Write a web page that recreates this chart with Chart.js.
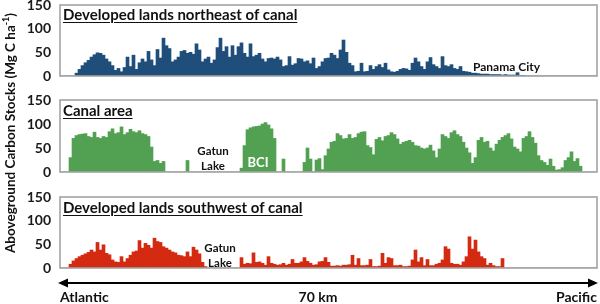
<!DOCTYPE html>
<html>
<head>
<meta charset="utf-8">
<script src="https://cdn.jsdelivr.net/npm/chart.js@4.4.1/dist/chart.umd.min.js"></script>
<style>
  body{margin:0;background:#fff;width:600px;height:304px;position:relative;overflow:hidden;font-family:Lato,"Open Sans",sans-serif;font-weight:bold;color:#111}
  .box{position:absolute;left:0;width:600px}
  .t{position:absolute;white-space:nowrap;line-height:1}
  .u{text-decoration:underline;text-underline-offset:2px}
</style>
</head>
<body>
<div class="box" style="top:-3px;height:87px"><canvas id="ne"></canvas></div>
<div class="box" style="top:92px;height:88px"><canvas id="canal"></canvas></div>
<div class="box" style="top:189px;height:87px"><canvas id="sw"></canvas></div>

<div class="t u" style="left:63px;top:7px;font-size:15px">Developed lands northeast of canal</div>
<div class="t u" style="left:63px;top:103px;font-size:15px">Canal area</div>
<div class="t u" style="left:63px;top:200px;font-size:15px">Developed lands southwest of canal</div>

<div class="t" style="left:473px;top:61px;font-size:12px">Panama City</div>
<div class="t" style="left:213px;top:143px;font-size:11.5px;transform:translateX(-50%);text-align:center;line-height:15px">Gatun<br>Lake</div>
<div class="t" style="left:258px;top:156px;font-size:13px;color:#fff;transform:translateX(-50%)">BCI</div>
<div class="t" style="left:220px;top:240px;font-size:11.5px;transform:translateX(-50%);text-align:center;line-height:15px">Gatun<br>Lake</div>

<div class="t" style="left:9px;top:133px;font-size:13.5px;transform:translate(-50%,-50%) rotate(-90deg)">Aboveground Carbon Stocks (Mg C ha<sup style="font-size:9px">-1</sup>)</div>

<svg style="position:absolute;left:0;top:0" width="600" height="304">
  <line x1="66" y1="283" x2="591" y2="283" stroke="#000" stroke-width="2"/>
  <polygon points="58,283 68,278.5 68,287.5" fill="#000"/>
  <polygon points="598,283 588,278.5 588,287.5" fill="#000"/>
</svg>
<div class="t" style="left:60px;top:290px;font-size:14px">Atlantic</div>
<div class="t" style="left:318px;top:290px;font-size:14px;transform:translateX(-50%)">70 km</div>
<div class="t" style="left:597px;top:290px;font-size:14px;transform:translateX(-100%)">Pacific</div>

<script>
// carbon stocks (Mg C / ha) sampled every ~3 px along the transect, Atlantic -> Pacific
const neValues=[0,0,0,0,0,6,14,22,28,33,40,45,49,
  48,44,36,30,22,12,16,9,18,
  40,20,44,14,28,36,30,52,
  34,22,56,38,80,64,58,30,34,40,
  52,54,48,50,46,68,55,30,36,40,
  27,34,60,80,52,62,40,64,44,62,
  70,48,40,68,41,44,48,36,30,37,
  38,36,40,34,20,22,41,23,26,37,
  36,30,32,26,38,16,20,30,37,38,
  48,44,37,55,76,50,27,22,9,10,
  27,9,10,22,14,20,24,18,27,13,
  9,8,10,14,16,15,12,27,38,30,
  20,14,30,39,24,20,16,41,22,20,
  24,16,14,20,10,9,8,6,6,5,
  4,4,4,3,3,3,3,2,3,2,
  2,2,7,1,1,0,0,0,0,0,
  0,0,0,0,0,0,0,0,0,0,0,0,0,0,0,0,0,0,0];
const canalValues=[0,0,0,30,70,76,78,79,80,74,
  72,83,72,70,74,72,84,90,80,82,
  94,78,82,89,84,82,86,80,78,74,
  52,22,24,18,22,0,0,0,0,0,
  0,0,24,0,0,0,0,0,0,0,
  0,0,0,0,0,0,0,0,0,0,
  8,55,88,92,94,95,96,100,103,98,
  90,70,0,0,27,0,0,0,0,0,
  0,20,50,27,0,25,28,5,34,48,
  62,64,80,76,69,70,78,70,72,80,
  83,84,55,51,36,68,72,65,74,76,
  82,78,69,58,62,64,66,62,55,54,
  50,48,50,56,44,30,48,78,74,70,
  82,86,78,74,62,50,40,18,30,66,
  72,62,64,50,44,58,66,72,76,80,
  69,52,48,42,70,74,84,72,60,34,
  24,20,14,27,12,4,5,9,24,30,
  42,22,28,12,0,0,0,0,0];
const swValues=[0,0,0,8,15,20,24,27,30,33,
  38,34,54,38,49,31,28,17,13,12,
  24,13,20,27,34,36,58,42,52,48,
  42,63,56,54,45,42,38,34,32,27,
  26,24,34,24,44,38,30,12,3,0,
  0,0,0,0,0,0,0,0,0,0,
  22,8,10,9,32,12,13,10,6,24,
  10,8,6,7,10,6,8,18,10,10,
  13,22,14,10,6,7,13,14,22,12,
  4,4,5,4,6,6,7,27,6,20,
  5,5,6,18,3,3,4,31,10,22,
  20,5,5,6,3,3,4,17,38,13,
  22,5,18,5,5,8,10,17,45,40,
  10,8,8,6,13,24,66,40,59,34,
  24,20,6,10,5,3,3,20,0,0,
  0,0,0,0,0,0,0,0,0,0,
  0,0,0,0,0,0,0,0,0,0,
  0,0,0,0,0,0,0,0,0];
const positions=neValues.map((_,i)=>i);
const yTicks=[0,50,100,150];

const frame={id:'frame',afterDatasetsDraw(chart){
  const {ctx,chartArea:a}=chart;
  ctx.save();ctx.strokeStyle='#a3a3a3';ctx.lineWidth=1.6;
  ctx.strokeRect(a.left,a.top,a.right-a.left,a.bottom-a.top);
  ctx.restore();
}};

function panel(id,values,color){
  new Chart(document.getElementById(id),{type:'bar',
    data:{labels:positions,datasets:[{data:values,backgroundColor:color,borderWidth:0,barPercentage:1,categoryPercentage:1}]},
    options:{responsive:true,maintainAspectRatio:false,animation:false,
      layout:{padding:{top:8,right:3,bottom:8,left:0}},
      plugins:{legend:{display:false},tooltip:{enabled:false}},
      scales:{
        x:{display:false},
        y:{min:0,max:150,afterBuildTicks:s=>{s.ticks=yTicks.map(v=>({value:v}))},
          ticks:{padding:9,color:'#1a1a1a',font:{size:14,weight:'bold',family:'Lato'}},
          grid:{display:false,drawTicks:false},border:{display:false},
          afterFit:s=>{s.width=60;s.paddingTop=0;s.paddingBottom=0}}
      }},
    plugins:[frame]});
}
panel('ne',neValues,'#1f4e7a');
panel('canal',canalValues,'#52a152');
panel('sw',swValues,'#d42a12');
</script>
</body>
</html>
